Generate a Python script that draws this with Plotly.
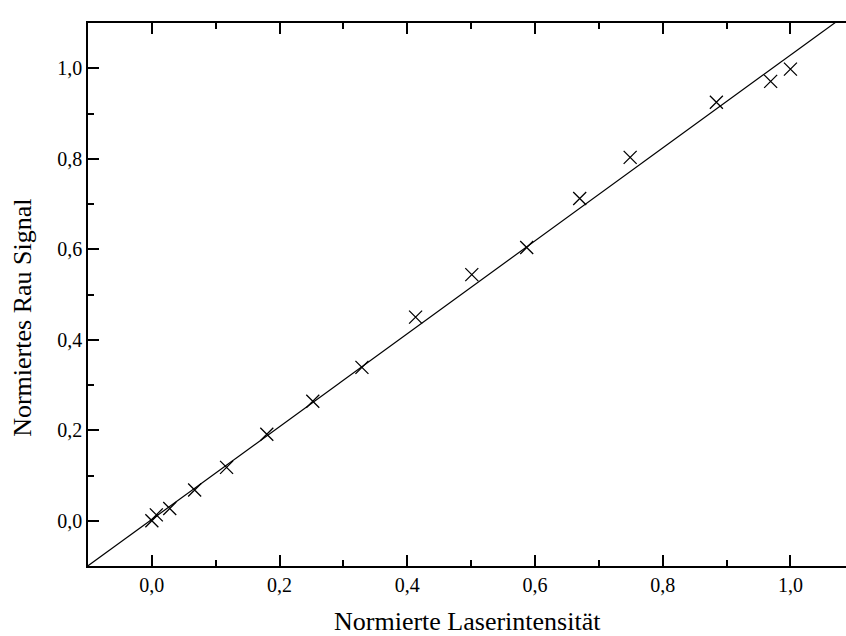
import plotly.graph_objects as go

# Data
laser_intensity = [0.0, 0.007, 0.028, 0.067, 0.117, 0.180, 0.252, 0.329, 0.413,
                   0.501, 0.587, 0.670, 0.749, 0.884, 0.969, 1.0]
rau_signal = [0.0, 0.013, 0.027, 0.068, 0.118, 0.191, 0.264, 0.339, 0.450,
              0.544, 0.604, 0.712, 0.803, 0.925, 0.971, 0.998]

fit_slope = 1.026
fit_intercept = 0.003
fit_x = [-0.1, 1.1]
fit_y = [fit_intercept + fit_slope * v for v in fit_x]

x_title = "Normierte Laserintensität"
y_title = "Normiertes Rau Signal"

FONT = "Liberation Serif, Times New Roman, serif"

fig = go.Figure()
fig.add_trace(go.Scatter(x=fit_x, y=fit_y, mode="lines",
                         line=dict(color="black", width=1.2),
                         showlegend=False, hoverinfo="skip"))
fig.add_trace(go.Scatter(x=laser_intensity, y=rau_signal, mode="markers",
                         marker=dict(symbol="x-thin", size=13,
                                     line=dict(color="black", width=1.3)),
                         showlegend=False))

axis_common = dict(
    showline=True, linecolor="black", linewidth=1.6,
    ticks="inside", ticklen=11, tickwidth=1.6, tickcolor="black",
    showgrid=False, zeroline=False,
    tickformat=".1f", dtick=0.2, tick0=0,
    tickfont=dict(family=FONT, size=20, color="black"),
    minor=dict(ticks="inside", ticklen=6, tickwidth=1.6, tickcolor="black",
               dtick=0.1, showgrid=False),
)

fig.update_layout(
    width=846, height=636,
    margin=dict(l=88, r=0, t=23, b=70),
    paper_bgcolor="white", plot_bgcolor="white",
    separators=",.",
    font=dict(family=FONT, color="black"),
    xaxis=dict(range=[-0.1, 1.087], mirror="ticks", **axis_common),
    yaxis=dict(range=[-0.1, 1.1], mirror=False, **axis_common),
    annotations=[
        dict(text=x_title, xref="paper", yref="paper", x=0.5, y=-0.103,
             xanchor="center", yanchor="middle", showarrow=False,
             font=dict(family=FONT, size=26, color="black")),
        dict(text=y_title, xref="paper", yref="paper", x=-0.0858, y=0.457,
             xanchor="center", yanchor="middle", showarrow=False, textangle=-90,
             font=dict(family=FONT, size=26, color="black")),
    ],
)

fig.write_html("out.html")
